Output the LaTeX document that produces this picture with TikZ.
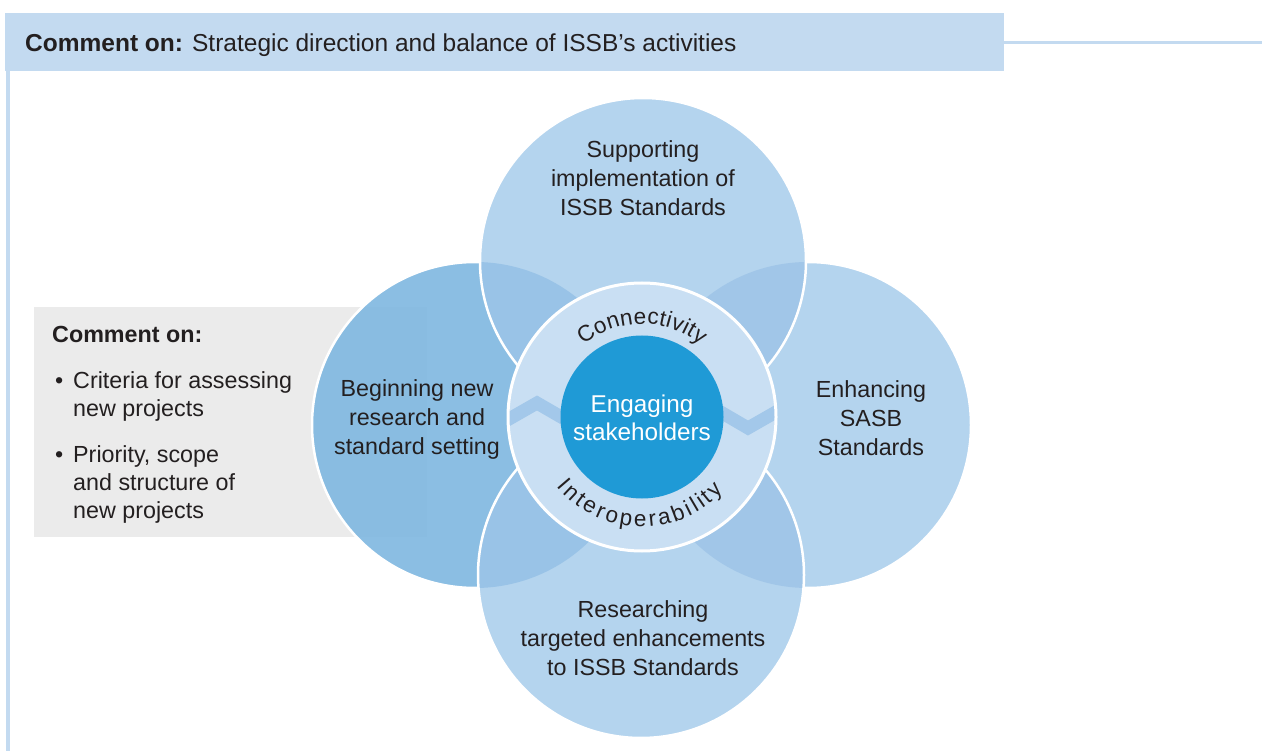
\documentclass[tikz,border=0pt]{standalone}
\usepackage{fontspec}
\setmainfont{Liberation Sans}
\usetikzlibrary{decorations.text}
\definecolor{hdr}{HTML}{C3DAF0}
\definecolor{lightc}{HTML}{B4D4EE}
\definecolor{leftc}{RGB}{127,183,224}
\definecolor{ovl}{HTML}{99C3E7}
\definecolor{ovr}{HTML}{A1C6E8}
\definecolor{ringc}{HTML}{C9DFF3}
\definecolor{ctrc}{HTML}{1F9AD6}
\definecolor{zig}{HTML}{A3C8EA}
\definecolor{grayb}{HTML}{EBEBEB}
\definecolor{txt}{HTML}{231F20}
\newcommand{\arcfont}{\fontsize{22.5}{22.5}\selectfont\color{txt}}
\begin{document}
\begin{tikzpicture}[x=1pt,y=-1pt,
  lbl/.style={text=txt, font=\fontsize{23.3}{29}\selectfont, align=center, inner sep=0pt},
  side/.style={text=txt, font=\fontsize{23.3}{28}\selectfont, inner sep=0pt, anchor=base west},
  wline/.style={draw=white, line width=2.5pt}]
\useasboundingbox (0,0) rectangle (1262,751);
\fill[white] (0,0) rectangle (1262,751);
% header
\node[fill=hdr, minimum width=999pt, minimum height=58pt, anchor=north west, inner sep=0pt] (hdr) at (5,13) {};
\node[anchor=base west, text=txt, font=\fontsize{24.5}{28}\selectfont, inner sep=0pt] (hdrtext) at (25,52) {\textbf{Comment on:} Strategic direction and balance of ISSB’s activities};
\coordinate (lineend) at (1262,43);
\draw[hdr, line width=3pt] (hdr.east |- lineend) -- (lineend);
\coordinate (vbot) at (8,751);
\draw[hdr, line width=3.5pt] (hdr.south west -| vbot) -- (vbot);
% gray box
\node[fill=grayb, minimum width=393pt, minimum height=230pt, anchor=north west, inner sep=0pt] (gbox) at (34,307) {};
% circle centres
\coordinate (cl) at (475,425);
\coordinate (cr) at (808,425);
\coordinate (ct) at (643,261);
\coordinate (cb) at (641,575);
\coordinate (c0) at (642,417);
% side circles
\fill[leftc, fill opacity=0.9] (cl) circle (163pt);
\draw[wline] (cl) circle (163pt);
\fill[lightc] (cr) circle (163pt);
\draw[wline] (cr) circle (163pt);
% top and bottom circles
\fill[lightc] (ct) circle (163pt);
\fill[lightc] (cb) circle (163pt);
% overlaps
\begin{scope}\clip (ct) circle (163pt); \fill[ovl] (cl) circle (163pt); \end{scope}
\begin{scope}\clip (ct) circle (163pt); \fill[ovr] (cr) circle (163pt); \end{scope}
\begin{scope}\clip (cb) circle (163pt); \fill[ovl] (cl) circle (163pt); \end{scope}
\begin{scope}\clip (cb) circle (163pt); \fill[ovr] (cr) circle (163pt); \end{scope}
\draw[wline] (ct) circle (163pt);
\draw[wline] (cb) circle (163pt);
% ring
\fill[ringc] (c0) circle (134pt);
\begin{scope}
  \clip (c0) circle (134pt);
  \draw[zig, line width=13pt, miter limit=10] (495,427) -- (537,403) -- (575,425);
  \draw[zig, line width=13pt, miter limit=10] (712,407) -- (748,428) -- (790,404);
\end{scope}
\draw[white, line width=3pt] (c0) circle (134pt);
\fill[ctrc] (c0) circle (81.5pt);
% curved texts
\path[decorate, decoration={text along path, text={|\arcfont|Connectivity}, text align={fit to path}}]
  (c0) ++(129:93pt) arc[start angle=129, end angle=51, radius=93pt];
\path[decorate, decoration={text along path, text={|\arcfont|Interoperability}, text align={fit to path}}]
  (c0) ++(219:110pt) arc[start angle=219, end angle=318, radius=110pt];
% labels
\node[lbl] (ttop) at (643,178) {Supporting\\implementation of\\ISSB Standards};
\node[lbl] (tleft) at (417,419) {Beginning new\\research and\\standard setting};
\node[lbl] (tright) at (871,418) {Enhancing\\SASB\\Standards};
\node[lbl] (tbot) at (643,638) {Researching\\targeted enhancements\\to ISSB Standards};
\node[lbl, text=white, font=\fontsize{24.3}{28.5}\selectfont] (tctr) at (642,418) {Engaging\\stakeholders};
% side text
\node[side] (shead) at (52,343) {\textbf{Comment on:}};
\node[side] (bul1) at (55,389) {•};
\node[side] (s1a) at (73,389) {Criteria for assessing};
\node[side] (s1b) at (73,417) {new projects};
\node[side] (bul2) at (55,462) {•};
\node[side] (s2a) at (73,462) {Priority, scope};
\node[side] (s2b) at (73,490) {and structure of};
\node[side] (s2c) at (73,518) {new projects};
\end{tikzpicture}
\end{document}
